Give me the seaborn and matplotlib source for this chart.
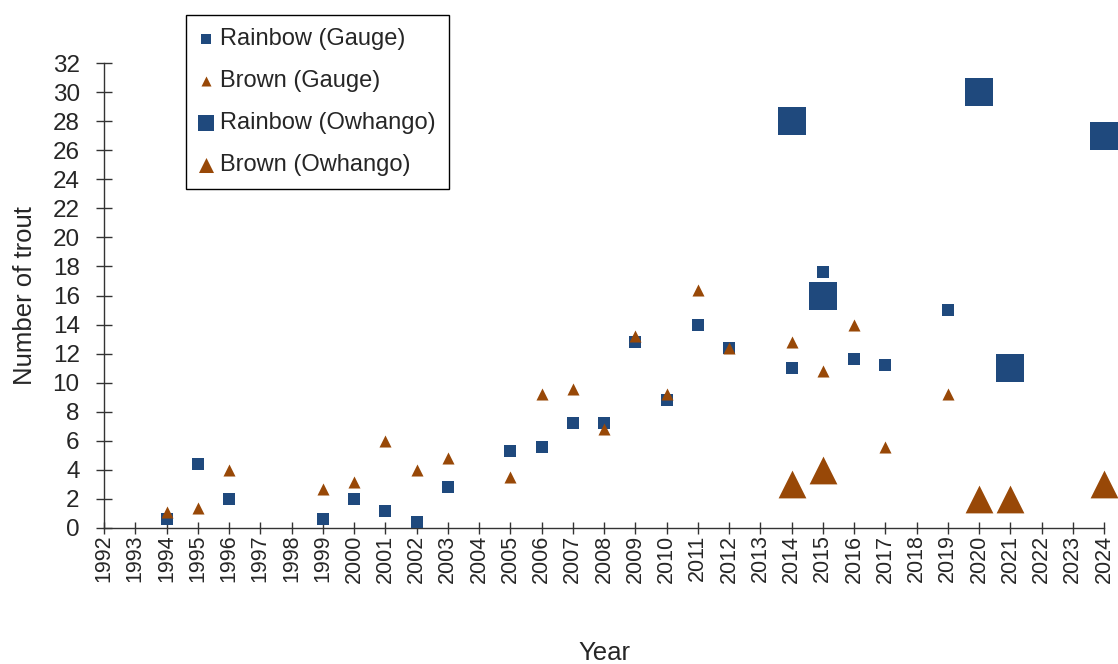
# Trout counts by year: Gauge vs Owhango sites
import numpy as np
import pandas as pd
import matplotlib
matplotlib.use("Agg")
import matplotlib.pyplot as plt
import seaborn as sns

sns.set_style("ticks")
plt.rcParams['font.family'] = ['Liberation Sans', 'DejaVu Sans']

# ---- data ----
gauge_years = [1994, 1995, 1996, 1999, 2000, 2001, 2002, 2003, 2005, 2006, 2007,
               2008, 2009, 2010, 2011, 2012, 2014, 2015, 2016, 2017, 2019]
rainbow_gauge = [0.6, 4.4, 2.0, 0.6, 2.0, 1.2, 0.4, 2.8, 5.3, 5.6, 7.2,
                 7.2, 12.8, 8.8, 14.0, 12.4, 11.0, 17.6, 11.6, 11.2, 15.0]
brown_gauge = [1.1, 1.4, 4.0, 2.7, 3.2, 6.0, 4.0, 4.8, 3.5, 9.2, 9.6,
               6.8, 13.2, 9.2, 16.4, 12.4, 12.8, 10.8, 14.0, 5.6, 9.2]

owhango_years = [2014, 2015, 2020, 2021, 2024]
rainbow_owhango = [28, 16, 30, 11, 27]
brown_owhango = [3, 4, 2, 2, 3]

year_ticks = list(range(1992, 2025))
count_ticks = list(range(0, 33, 2))

BLUE = '#1F497D'
BROWN = '#984807'

gauge = pd.DataFrame({'Year': gauge_years, 'Rainbow': rainbow_gauge, 'Brown': brown_gauge})
owh = pd.DataFrame({'Year': owhango_years, 'Rainbow': rainbow_owhango, 'Brown': brown_owhango})

fig = plt.figure(figsize=(11.18, 6.64), dpi=100)
ax = fig.add_axes([104 / 1118, 136 / 664, 1000 / 1118, 465 / 664])

small, big = 75, 400
sns.scatterplot(data=gauge, x='Year', y='Rainbow', marker='s', s=small, color=BLUE,
                linewidth=0, label='Rainbow (Gauge)', ax=ax, clip_on=False, zorder=3)
sns.scatterplot(data=gauge, x='Year', y='Brown', marker='^', s=small, color=BROWN,
                linewidth=0, label='Brown (Gauge)', ax=ax, clip_on=False, zorder=3)
sns.scatterplot(data=owh, x='Year', y='Rainbow', marker='s', s=big, color=BLUE,
                linewidth=0, label='Rainbow (Owhango)', ax=ax, clip_on=False, zorder=3)
sns.scatterplot(data=owh, x='Year', y='Brown', marker='^', s=big, color=BROWN,
                linewidth=0, label='Brown (Owhango)', ax=ax, clip_on=False, zorder=3)

ax.set_xlim(1992, 2024)
ax.set_ylim(0, 32)
ax.set_xticks(year_ticks)
ax.set_xticklabels([str(y) for y in year_ticks], rotation=90)
ax.set_yticks(count_ticks)

sns.despine(ax=ax)
for side in ['left', 'bottom']:
    ax.spines[side].set_color('#333333')
    ax.spines[side].set_linewidth(1.0)

ax.tick_params(axis='x', direction='inout', length=8.5, width=1, color='#333333',
               labelsize=15.5, pad=0.5)
ax.tick_params(axis='y', direction='inout', length=11, width=1, color='#333333',
               labelsize=17.5, pad=12)

ax.set_xlabel('Year', fontsize=18.5, labelpad=42)
ax.set_ylabel('Number of trout', fontsize=18.5, labelpad=11)

leg = ax.legend(loc='upper left', bbox_to_anchor=(186 / 1118, 1 - 15 / 664),
                bbox_transform=fig.transFigure, borderaxespad=0, fontsize=17,
                frameon=True, fancybox=False, framealpha=1, edgecolor='black',
                handlelength=0.6, handletextpad=0.3, labelspacing=0.85,
                borderpad=0.55, markerscale=1)
leg.get_frame().set_linewidth(1.0)
for h, sz in zip(leg.legend_handles, [52, 52, 117, 117]):
    h.set_sizes([sz])

fig.savefig('out.png', dpi=100)
